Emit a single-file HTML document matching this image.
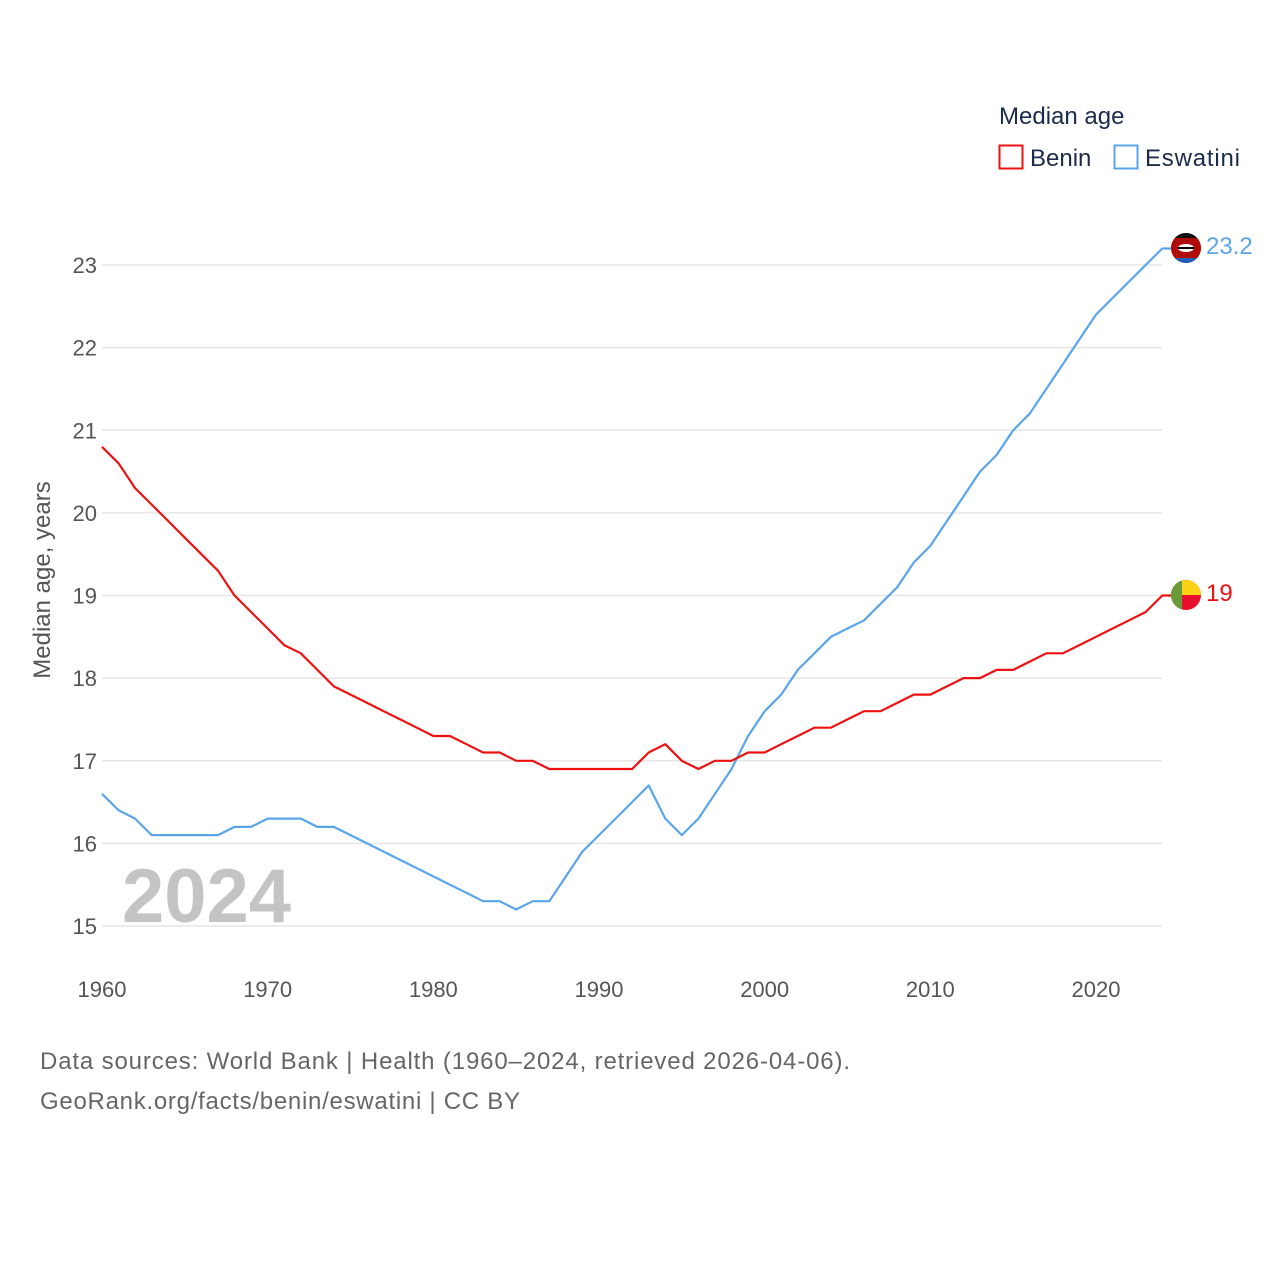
<!DOCTYPE html>
<html><head><meta charset="utf-8"><style>
body{margin:0;background:#fff;}
svg text{font-family:"Liberation Sans",sans-serif;}
</style></head><body>
<svg width="1280" height="1280" viewBox="0 0 1280 1280" xmlns="http://www.w3.org/2000/svg">
<g id="grid"></g>
<g id="yticks"></g>
<g id="xticks"></g>
<text x="122" y="922" font-size="76" font-weight="bold" fill="#c4c4c4">2024</text>
<text transform="translate(50,580) rotate(-90)" text-anchor="middle" font-size="24" fill="#555">Median age, years</text>
<g id="lines"></g>
<g>
<clipPath id="c1"><circle cx="1186" cy="248" r="15"/></clipPath>
<g clip-path="url(#c1)"><rect x="1170" y="232" width="32" height="32" fill="#3e5eb9"/><rect x="1170" y="236" width="32" height="24" fill="#ffd900"/><rect x="1170" y="238" width="32" height="20" fill="#b10c0c"/><rect x="1170" y="232" width="32" height="6" fill="#111"/><rect x="1170" y="258" width="32" height="6" fill="#1f5fb8"/><ellipse cx="1186" cy="248" rx="8" ry="4" fill="#fff"/><rect x="1178" y="247" width="16" height="2" fill="#000"/></g></g>
<g>
<clipPath id="c2"><circle cx="1186" cy="595" r="15"/></clipPath>
<g clip-path="url(#c2)"><rect x="1170" y="579" width="32" height="32" fill="#e8112d"/><rect x="1170" y="579" width="32" height="16" fill="#fcd116"/><rect x="1170" y="579" width="12" height="32" fill="#6a9a3a"/></g></g>
<text x="1206" y="254" font-size="24" fill="#5aa5ea">23.2</text>
<text x="1206" y="601" font-size="24" fill="#ee1111">19</text>
<text x="999" y="124" font-size="24" fill="#1b2b4b">Median age</text>
<g><rect x="999.5" y="145.5" width="23" height="23" fill="none" stroke="#ee1111" stroke-width="2"/><text x="1030" y="166" font-size="24" fill="#1b2b4b">Benin</text></g>
<g><rect x="1114.5" y="145.5" width="23" height="23" fill="none" stroke="#5aa5ea" stroke-width="2"/><text x="1145" y="166" font-size="24" fill="#1b2b4b" textLength="95">Eswatini</text></g>
<text x="40" y="1069" font-size="24" fill="#666" textLength="810">Data sources: World Bank | Health (1960–2024, retrieved 2026-04-06).</text>
<text x="40" y="1109" font-size="24" fill="#666" textLength="480">GeoRank.org/facts/benin/eswatini | CC BY</text>
</svg>
<script>
const years=[];for(let y=1960;y<=2024;y++)years.push(y);
const benin=[20.8,20.6,20.3,20.1,19.9,19.7,19.5,19.3,19.0,18.8,18.6,18.4,18.3,18.1,17.9,17.8,17.7,17.6,17.5,17.4,17.3,17.3,17.2,17.1,17.1,17.0,17.0,16.9,16.9,16.9,16.9,16.9,16.9,17.1,17.2,17.0,16.9,17.0,17.0,17.1,17.1,17.2,17.3,17.4,17.4,17.5,17.6,17.6,17.7,17.8,17.8,17.9,18.0,18.0,18.1,18.1,18.2,18.3,18.3,18.4,18.5,18.6,18.7,18.8,19.0];
const eswatini=[16.6,16.4,16.3,16.1,16.1,16.1,16.1,16.1,16.2,16.2,16.3,16.3,16.3,16.2,16.2,16.1,16.0,15.9,15.8,15.7,15.6,15.5,15.4,15.3,15.3,15.2,15.3,15.3,15.6,15.9,16.1,16.3,16.5,16.7,16.3,16.1,16.3,16.6,16.9,17.3,17.6,17.8,18.1,18.3,18.5,18.6,18.7,18.9,19.1,19.4,19.6,19.9,20.2,20.5,20.7,21.0,21.2,21.5,21.8,22.1,22.4,22.6,22.8,23.0,23.2];
const yTicks=[15,16,17,18,19,20,21,22,23];
const xTicks=[1960,1970,1980,1990,2000,2010,2020];
const NS='http://www.w3.org/2000/svg';
const X=y=>102+(y-1960)*(1096-102)/60;
const Y=v=>926-(v-15)*(926-265)/8;
function mk(t,a,p){const e=document.createElementNS(NS,t);for(const k in a)e.setAttribute(k,a[k]);p.appendChild(e);return e;}
const grid=document.getElementById('grid'),yt=document.getElementById('yticks'),xt=document.getElementById('xticks'),lines=document.getElementById('lines');
yTicks.forEach(v=>{
 const l=mk('line',{x1:102,x2:1162,y1:Y(v),y2:Y(v),stroke:'#e6e6e6','stroke-width':1.5},grid);
 
 
 const t=mk('text',{x:97,y:Y(v)+8,'text-anchor':'end','font-size':22,fill:'#555'},yt);
 t.textContent=v;
 
 
});
xTicks.forEach(v=>{
 const t=mk('text',{x:X(v),y:997,'text-anchor':'middle','font-size':22,fill:'#555'},xt);
 t.textContent=v;
 
 
});
function draw(vals,color,name){
 let d=vals.map((v,i)=>(i?'L':'M')+X(years[i]).toFixed(1)+' '+Y(v).toFixed(1)).join(' ');
 d+=' L'+(X(years[years.length-1])+10).toFixed(1)+' '+Y(vals[vals.length-1]).toFixed(1);
 const p=mk('path',{d:d,fill:'none',stroke:color,'stroke-width':2.2,'stroke-linejoin':'round'},lines);
 
 
}
draw(eswatini,'#5aa5ea','eswatini-line');
draw(benin,'#ee1111','benin-line');
</script>
</body></html>
